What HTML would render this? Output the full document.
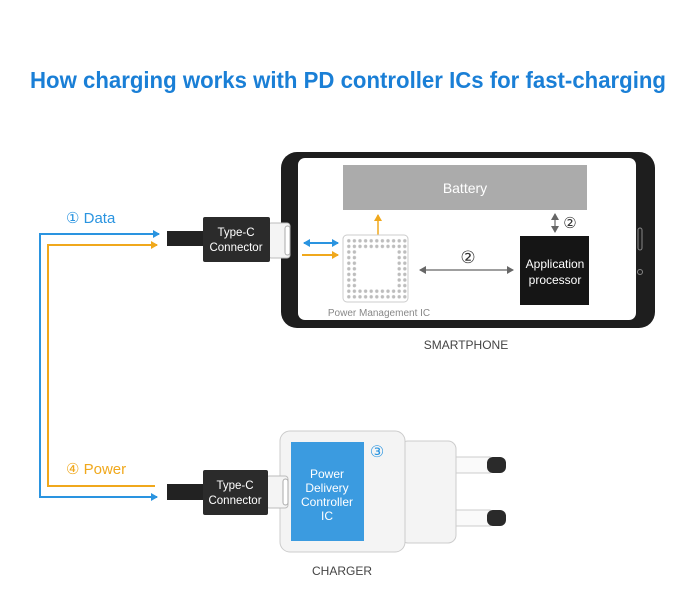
<!DOCTYPE html>
<html><head><meta charset="utf-8"><style>
html,body{margin:0;padding:0;background:#fff;}
svg{display:block;}
text{font-family:"Liberation Sans",sans-serif;}
</style></head><body>
<svg width="696" height="593" viewBox="0 0 696 593" xmlns="http://www.w3.org/2000/svg">
<defs>
<pattern id="dots" x="346" y="238" width="5.6" height="5.6" patternUnits="userSpaceOnUse">
<circle cx="2.8" cy="2.8" r="1.7" fill="#bdbdbd"/>
</pattern>
<marker id="ab" markerWidth="8" markerHeight="8" refX="6" refY="4" orient="auto-start-reverse" markerUnits="userSpaceOnUse"><path d="M0,0 L7,4 L0,8 z" fill="#2a94e0"/></marker>
<marker id="ao" markerWidth="8" markerHeight="8" refX="6" refY="4" orient="auto-start-reverse" markerUnits="userSpaceOnUse"><path d="M0,0 L7,4 L0,8 z" fill="#f0a81c"/></marker>
<marker id="ag" markerWidth="8" markerHeight="8" refX="6" refY="4" orient="auto-start-reverse" markerUnits="userSpaceOnUse"><path d="M0,0 L7,4 L0,8 z" fill="#666"/></marker>
</defs>
<text x="348" y="88" text-anchor="middle" font-size="23" font-weight="bold" fill="#1a7fd6" textLength="636" lengthAdjust="spacingAndGlyphs">How charging works with PD controller ICs for fast-charging</text>

<!-- phone -->
<rect x="281" y="152" width="374" height="176" rx="16" fill="#1e1e1e"/>
<rect x="298" y="158" width="338" height="162" rx="7" fill="#fff"/>
<rect x="638" y="228" width="4" height="22" rx="2" fill="none" stroke="#888" stroke-width="1"/>
<circle cx="640" cy="272" r="2.5" fill="none" stroke="#888"/>
<rect x="343" y="165" width="244" height="45" fill="#ababab"/>
<text x="465" y="193" text-anchor="middle" font-size="14" fill="#fff">Battery</text>
<line x1="378" y1="238" x2="378" y2="215" stroke="#f0a81c" stroke-width="1.5" marker-end="url(#ao)"/>
<line x1="555" y1="214" x2="555" y2="232" stroke="#666" stroke-width="1.2" marker-end="url(#ag)" marker-start="url(#ag)"/>
<text x="570" y="228" text-anchor="middle" font-size="15" fill="#333">②</text>
<rect x="520" y="236" width="69" height="69" fill="#151515"/>
<text x="555" y="268" text-anchor="middle" font-size="12" fill="#fff">Application</text>
<text x="555" y="284" text-anchor="middle" font-size="12" fill="#fff">processor</text>
<rect x="343" y="235" width="65" height="67" rx="4" fill="#fff" stroke="#ccc"/>
<rect x="346" y="238" width="61.6" height="11.2" fill="url(#dots)"/>
<rect x="346" y="288.4" width="61.6" height="11.2" fill="url(#dots)"/>
<rect x="346" y="249.2" width="11.2" height="39.2" fill="url(#dots)"/>
<rect x="396.4" y="249.2" width="11.2" height="39.2" fill="url(#dots)"/>
<text x="379" y="316" text-anchor="middle" font-size="10" fill="#888">Power Management IC</text>
<line x1="420" y1="270" x2="513" y2="270" stroke="#666" stroke-width="1.2" marker-end="url(#ag)" marker-start="url(#ag)"/>
<text x="468" y="263" text-anchor="middle" font-size="17" fill="#333">②</text>
<line x1="304" y1="243" x2="338" y2="243" stroke="#2a94e0" stroke-width="2" marker-end="url(#ab)" marker-start="url(#ab)"/>
<line x1="302" y1="255" x2="338" y2="255" stroke="#f0a81c" stroke-width="2" marker-end="url(#ao)"/>
<text x="466" y="349" text-anchor="middle" font-size="12" fill="#444">SMARTPHONE</text>

<!-- phone connector -->
<rect x="268" y="223" width="22" height="35" rx="3" fill="#f4f4f4" stroke="#bbb"/>
<rect x="285" y="226" width="5" height="29" rx="2.5" fill="#fff" stroke="#aaa"/>
<rect x="167" y="231" width="38" height="15" fill="#222"/>
<rect x="203" y="217" width="67" height="45" rx="2" fill="#2b2b2b"/>
<text x="236" y="236" text-anchor="middle" font-size="11.5" fill="#fff">Type-C</text>
<text x="236" y="251" text-anchor="middle" font-size="11.5" fill="#fff">Connector</text>

<!-- lines -->
<polyline points="159,234 40,234 40,497 157,497" fill="none" stroke="#2a94e0" stroke-width="2" marker-start="url(#ab)" marker-end="url(#ab)"/>
<polyline points="157,245 48,245 48,486 155,486" fill="none" stroke="#f0a81c" stroke-width="2" marker-start="url(#ao)"/>
<text x="66" y="223" font-size="15" fill="#2a94e0">① Data</text>
<text x="66" y="474" font-size="15" fill="#f0a81c">④ Power</text>

<!-- charger -->
<rect x="400" y="441" width="56" height="102" rx="8" fill="#f4f4f4" stroke="#ccc"/>
<rect x="456" y="457" width="34" height="16" fill="#fafafa" stroke="#ccc"/>
<rect x="456" y="510" width="34" height="16" fill="#fafafa" stroke="#ccc"/>
<rect x="487" y="457" width="19" height="16" rx="6" fill="#2a2a2a"/>
<rect x="487" y="510" width="19" height="16" rx="6" fill="#2a2a2a"/>
<rect x="280" y="431" width="125" height="121" rx="10" fill="#f4f4f4" stroke="#ccc"/>
<rect x="291" y="442" width="73" height="99" fill="#3b9be0"/>
<text x="327" y="478" text-anchor="middle" font-size="12" fill="#fff">Power</text>
<text x="327" y="492" text-anchor="middle" font-size="12" fill="#fff">Delivery</text>
<text x="327" y="506" text-anchor="middle" font-size="12" fill="#fff">Controller</text>
<text x="327" y="520" text-anchor="middle" font-size="12" fill="#fff">IC</text>
<text x="377" y="457" text-anchor="middle" font-size="16" fill="#2a94e0">③</text>
<rect x="266" y="476" width="22" height="32" rx="3" fill="#f4f4f4" stroke="#bbb"/>
<rect x="283" y="479" width="5" height="26" rx="2.5" fill="#fff" stroke="#aaa"/>
<rect x="167" y="484" width="38" height="16" fill="#222"/>
<rect x="203" y="470" width="65" height="45" rx="2" fill="#2b2b2b"/>
<text x="235" y="489" text-anchor="middle" font-size="11.5" fill="#fff">Type-C</text>
<text x="235" y="504" text-anchor="middle" font-size="11.5" fill="#fff">Connector</text>
<text x="342" y="575" text-anchor="middle" font-size="12" fill="#444">CHARGER</text>
</svg>
</body></html>
